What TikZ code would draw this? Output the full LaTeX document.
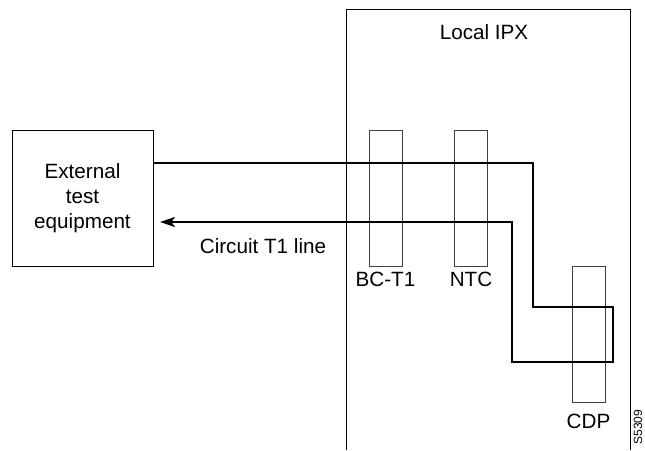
\documentclass[tikz,border=0pt]{standalone}
\usepackage{fontspec}
\setmainfont{Liberation Sans}
\usetikzlibrary{arrows.meta,positioning}
\tikzset{
  box/.style={draw, line width=0.75pt, inner sep=0pt},
  card/.style={draw=black!75, line width=0.75pt, inner sep=0pt,
    minimum width=24.75pt, minimum height=102pt},
  wire/.style={line width=1.6pt},
  txt/.style={font=\fontsize{15.5}{18.75}\selectfont, align=center},
}
\begin{document}
\begin{tikzpicture}[x=0.75pt, y=-0.75pt]
  \useasboundingbox (0, 0) rectangle (645, 450);
  % frame of the local IPX (open at the bottom)
  \draw[line width=0.75pt] (346, 450) -- (346, 9) -- (630, 9) -- (630, 450);
  \node[txt] (ipx) at (484, 32) {Local IPX};
  % external test equipment
  \node[box, txt, minimum width=105.75pt, minimum height=102pt] (ext) at (82.5, 198)
    {External\\test\\equipment};
  % cards in the IPX
  \node[card] (bct1) at (385.5, 198) {};
  \node[txt, below=0.5pt of bct1] (bct1lbl) {BC-T1};
  \node[card] (ntc) at (471, 198) {};
  \node[txt, below=0.5pt of ntc] (ntclbl) {NTC};
  \node[card] (cdp) at (588.5, 334) {};
  \node[txt, below=5pt of cdp] (cdplbl) {CDP};
  % turning points of the T1 line
  \coordinate (a1) at (533, 163);
  \coordinate (a2) at (533, 307);
  \coordinate (a3) at (613, 307);
  \coordinate (a4) at (613, 362);
  \coordinate (a5) at (512, 362);
  \coordinate (a6) at (512, 222);
  % circuit T1 line, looped through the CDP
  \draw[wire, -{Stealth[length=11pt, width=7.5pt, inset=2.5pt]}, shorten >=5pt]
    (ext.east |- a1) -- (a1) -- (a2) -- (a3) -- (a4) -- (a5) -- (a6)
    -- (ext.east |- a6);
  \node[txt] (t1lbl) at (263, 246) {Circuit T1 line};
  % figure number
  \node[font=\fontsize{9}{11}\selectfont, rotate=90, anchor=east] (fig) at (638, 405) {S5309};
\end{tikzpicture}
\end{document}
